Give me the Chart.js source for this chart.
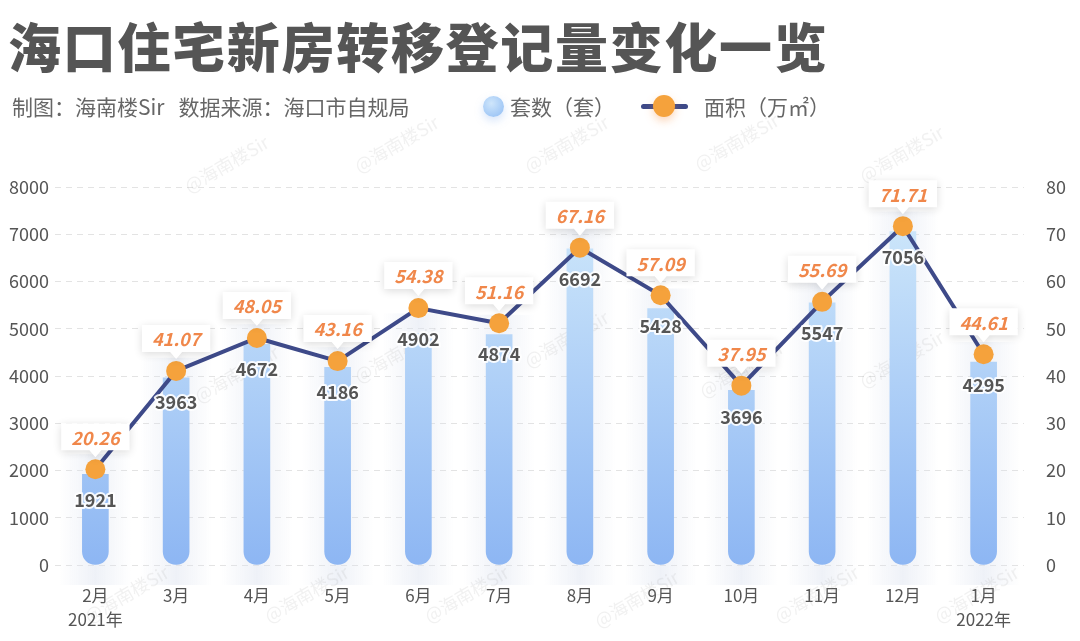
<!DOCTYPE html>
<html>
<head>
<meta charset="utf-8">
<script src="https://cdn.jsdelivr.net/npm/chart.js@4.4.1/dist/chart.umd.min.js"></script>
<style>
  html, body { margin: 0; padding: 0; background: #fff; }
  body { width: 1080px; height: 641px; position: relative; overflow: hidden;
         font-family: "Noto Sans CJK SC", "Noto Sans", sans-serif; }
  #wrap { position: absolute; left: 0; top: 0; width: 1080px; height: 641px; }
  .title { position: absolute; left: 8px; top: 10px; font-size: 53px; font-weight: 900;
           color: #555; letter-spacing: 1.7px; line-height: 70px; }
  .sub { position: absolute; left: 12px; top: 91px; font-size: 21px; color: #666; line-height: 30px; }
  .legend { position: absolute; top: 91px; font-size: 21px; color: #666; line-height: 30px; }
  .dot { position: absolute; width: 21px; height: 21px; border-radius: 50%;
         background: radial-gradient(circle at 40% 35%, #cfe6fb, #8fbcf4);
         box-shadow: 0 4px 8px rgba(140,180,240,0.35); }
  .seg { position: absolute; height: 5px; background: #3e4a89; border-radius: 3px; }
  .odot { position: absolute; width: 22px; height: 22px; border-radius: 50%; background: #f5a23c;
          box-shadow: 0 4px 8px rgba(245,140,60,0.35); }
</style>
</head>
<body>
<div id="wrap"><canvas id="chart" width="1080" height="641"></canvas></div>
<div class="title">海口住宅新房转移登记量变化一览</div>
<div class="sub">制图：海南楼Sir&nbsp;&nbsp;&nbsp;数据来源：海口市自规局</div>
<div class="dot" style="left:483px; top:96px;"></div>
<div class="legend" style="left:510px;">套数（套）</div>
<div class="seg" style="left:641px; top:104px; width:47px;"></div>
<div class="odot" style="left:653px; top:95px;"></div>
<div class="legend" style="left:704px;">面积（万㎡）</div>
<script>
const months = [['2月', '2021年'], '3月', '4月', '5月', '6月', '7月', '8月', '9月', '10月', '11月', '12月', ['1月', '2022年']];
const units = [1921, 3963, 4672, 4186, 4902, 4874, 6692, 5428, 3696, 5547, 7056, 4295];
const areas = [20.26, 41.07, 48.05, 43.16, 54.38, 51.16, 67.16, 57.09, 37.95, 55.69, 71.71, 44.61];

const FONT = '"Noto Sans CJK SC", "Noto Sans", sans-serif';

function barGradient(ctx) {
  const area = ctx.chart.chartArea;
  if (!area) return '#a9cdf7';
  const g = ctx.chart.ctx.createLinearGradient(0, area.top, 0, area.bottom);
  g.addColorStop(0, '#d3ebfb');
  g.addColorStop(1, '#8db6f3');
  return g;
}

// soft grey column behind each bar, plus watermarks
const backdrop = {
  id: 'backdrop',
  beforeDatasetsDraw(chart) {
    const { ctx, chartArea } = chart;
    const meta = chart.getDatasetMeta(0);
    ctx.save();
    meta.data.forEach((bar) => {
      const w = 72;
      const g = ctx.createLinearGradient(bar.x - w / 2, 0, bar.x + w / 2, 0);
      g.addColorStop(0, 'rgba(222,228,240,0)');
      g.addColorStop(0.5, 'rgba(222,228,240,0.5)');
      g.addColorStop(1, 'rgba(222,228,240,0)');
      ctx.fillStyle = g;
      ctx.fillRect(bar.x - w / 2, bar.y - 20, w, chartArea.bottom + 40 - bar.y);
    });
    // watermarks
    ctx.font = '18px ' + FONT;
    ctx.fillStyle = 'rgba(150,150,150,0.13)';
    const marks = [[230, 170], [400, 150], [570, 150], [740, 148], [905, 160],
                   [240, 380], [400, 360], [570, 345], [745, 375], [905, 365],
                   [130, 600], [310, 600], [470, 600], [640, 605], [820, 600], [980, 600]];
    marks.forEach(([x, y]) => {
      ctx.save();
      ctx.translate(x, y);
      ctx.rotate(-Math.PI / 6);
      ctx.textAlign = 'center';
      ctx.fillText('@海南楼Sir', 0, 0);
      ctx.restore();
    });
    ctx.restore();
  }
};

const valueLabels = {
  id: 'valueLabels',
  afterDatasetsDraw(chart) {
    const { ctx } = chart;
    const pts = chart.getDatasetMeta(1).data;
    ctx.save();
    ctx.textAlign = 'center';
    ctx.textBaseline = 'middle';
    pts.forEach((p, i) => {
      // count label below the point
      ctx.font = 'bold 18px ' + FONT;
      ctx.lineWidth = 4;
      ctx.strokeStyle = 'rgba(255,255,255,0.9)';
      ctx.lineJoin = 'round';
      ctx.strokeText(String(units[i]), p.x, p.y + 31);
      ctx.fillStyle = '#555';
      ctx.fillText(String(units[i]), p.x, p.y + 31);

      // area label in a white callout above the point
      const txt = areas[i].toFixed(2);
      ctx.font = 'italic bold 18px ' + FONT;
      const tw = ctx.measureText(txt).width + 20;
      const bh = 27;
      const by = p.y - 46;
      ctx.save();
      ctx.shadowColor = 'rgba(0,0,0,0.14)';
      ctx.shadowBlur = 8;
      ctx.shadowOffsetY = 2;
      ctx.fillStyle = '#fff';
      ctx.beginPath();
      ctx.rect(p.x - tw / 2, by, tw, bh);
      ctx.moveTo(p.x - 6, by + bh);
      ctx.lineTo(p.x, by + bh + 7);
      ctx.lineTo(p.x + 6, by + bh);
      ctx.fill();
      ctx.restore();
      ctx.fillStyle = '#f0874a';
      ctx.fillText(txt, p.x, by + bh / 2 + 1);
    });
    ctx.restore();
  }
};

new Chart(document.getElementById('chart'), {
  data: {
    labels: months,
    datasets: [
      {
        type: 'bar',
        data: units,
        yAxisID: 'y',
        backgroundColor: barGradient,
        barThickness: 26,
        borderRadius: { topLeft: 0, topRight: 0, bottomLeft: 13, bottomRight: 13 },
        borderSkipped: false,
        order: 2,
      },
      {
        type: 'line',
        data: areas,
        yAxisID: 'y1',
        borderColor: '#3e4a89',
        borderWidth: 4,
        pointRadius: 10,
        pointBackgroundColor: '#f5a23c',
        pointBorderColor: '#f5a23c',
        pointBorderWidth: 0,
        tension: 0,
        order: 1,
      },
    ],
  },
  options: {
    responsive: false,
    animation: false,
    layout: { padding: { top: 187, left: 0, right: 0, bottom: 0 } },
    plugins: { legend: { display: false }, tooltip: { enabled: false } },
    scales: {
      x: {
        offset: true,
        grid: { display: false },
        border: { display: false },
        ticks: { color: '#555', font: { family: FONT, size: 17, lineHeight: 1.45 }, padding: 10, maxRotation: 0 },
        afterFit(s) { s.height = 76; },
      },
      y: {
        position: 'left',
        min: 0,
        max: 8000,
        ticks: { stepSize: 1000, color: '#555', font: { family: FONT, size: 18 }, padding: 6,
                 callback: (v) => String(v) },
        grid: { color: '#e3e3e3', drawTicks: false },
        border: { display: false, dash: [6, 5] },
        afterFit(s) { s.width = 55; },
      },
      y1: {
        position: 'right',
        min: 0,
        max: 80,
        ticks: { stepSize: 10, color: '#555', font: { family: FONT, size: 18 }, padding: 14 },
        grid: { display: false },
        border: { display: false },
        afterFit(s) { s.width = 56; },
      },
    },
  },
  plugins: [backdrop, valueLabels],
});
</script>
</body>
</html>
